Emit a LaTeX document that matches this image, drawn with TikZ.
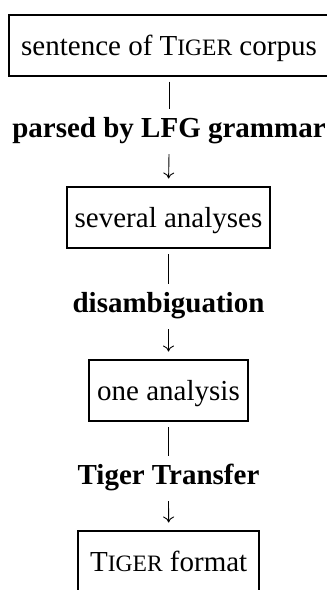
\documentclass[tikz,border=0pt]{standalone}
\usepackage{fontspec}
\setmainfont{Liberation Serif}
\usetikzlibrary{arrows.meta}
\newcommand{\tigersc}{T{\fontsize{23.5}{24}\selectfont IGER}}
\begin{document}
\begin{tikzpicture}[x=1pt,y=-1pt,
  box/.style={draw,line width=2pt,inner sep=0pt,text height=20pt,text depth=0pt,
    font=\fontsize{29}{30}\selectfont},
  lbl/.style={inner sep=0pt,anchor=base,text height=28pt,text depth=17pt,
    font=\fontsize{29}{30}\selectfont\bfseries},
  conn/.style={line width=0.9pt,shorten <=5pt},
  arr/.style={line width=0.9pt,-{To[length=6pt,width=11pt]},shorten >=7.5pt}]
\useasboundingbox (0,0) rectangle (327,590);
\node[box,minimum width=320pt,minimum height=60.7pt] (b1) at (169,45.3) {sentence of \tigersc\ corpus};
\node[lbl] (l1) at (169,137) {parsed by LFG grammar};
\node[box,minimum width=203pt,minimum height=61pt] (b2) at (168.5,217.5) {several analyses};
\node[lbl] (l2) at (168.5,312) {disambiguation};
\node[box,minimum width=159pt,minimum height=61pt] (b3) at (168.5,390.5) {one analysis};
\node[lbl] (l3) at (168.5,484) {Tiger Transfer};
\node[box,minimum width=181pt,minimum height=61pt] (b4) at (168.7,561.5) {\tigersc\ format};
\draw[conn] (b1.south) -- (l1.north);
\draw[arr] (l1.south) -- (b2.north);
\draw[conn] (b2.south) -- (l2.north);
\draw[arr] (l2.south) -- (b3.north);
\draw[conn] (b3.south) -- (l3.north);
\draw[arr] (l3.south) -- (b4.north);
\end{tikzpicture}
\end{document}
